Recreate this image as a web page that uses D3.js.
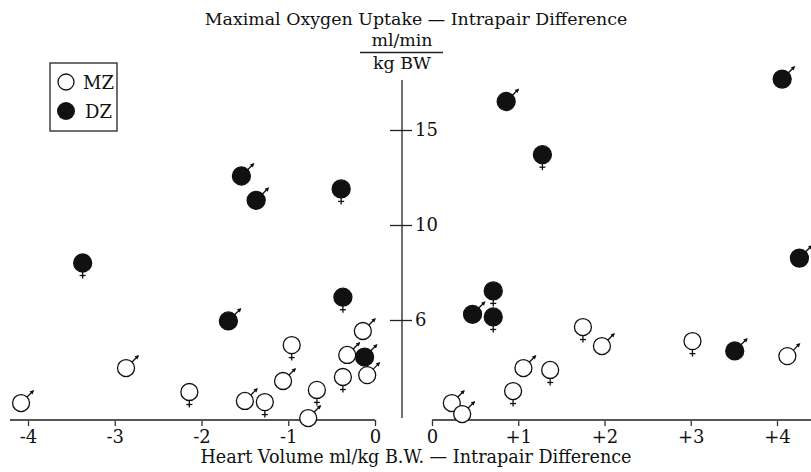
<!DOCTYPE html>
<html>
<head>
<meta charset="utf-8">
<script src="https://cdn.jsdelivr.net/npm/d3@7"></script>
<style>
  body { margin: 0; background: #fff; }
  text { font-family: "DejaVu Serif", serif; fill: #111; }
</style>
</head>
<body>
<svg id="chart" width="811" height="472"></svg>
<script>
// MZ pairs (open circles)
const mzX = [-4.08, -2.87, -2.14, -1.50, -1.27, -1.06, -0.96, -0.77, -0.67, -0.37, -0.32, -0.14, -0.09,
             0.23, 0.35, 0.94, 1.06, 1.37, 1.75, 1.97, 3.02, 4.12];
const mzY = [0.63, 2.47, 1.21, 0.74, 0.68, 1.79, 3.68, -0.16, 1.32, 2.0, 3.16, 4.42, 2.1,
             0.63, 0.05, 1.26, 2.47, 2.37, 4.63, 3.63, 3.89, 3.1];
const mzSex = ["M","M","F","M","F","M","F","M","F","F","M","M","M",
               "M","M","F","M","F","F","M","F","M"];

// DZ pairs (filled circles)
const dzX = [-3.37, -1.69, -0.37, -0.12, -1.54, -1.37, -0.39, 0.47, 0.71, 0.71, 3.51, 4.26, 0.86, 1.28, 4.06];
const dzY = [8.0, 4.95, 6.2, 3.05, 12.58, 11.3, 11.9, 5.3, 6.53, 5.16, 3.37, 8.26, 16.5, 13.7, 17.68];
const dzSex = ["F","M","F","M","M","M","F","M","F","F","M","M","M","F","M"];

const leftTicks = [-4, -3, -2, -1, 0];
const leftTickLabels = ["-4", "-3", "-2", "-1", "0"];
const rightTicks = [0, 1, 2, 3, 4];
const rightTickLabels = ["0", "+1", "+2", "+3", "+4"];
const yTicks = [5, 10, 15];
const yTickLabels = ["6", "10", "15"];

const svg = d3.select("#chart");
const baseY = 420;
const axisX = 402;

const xLeft = d3.scaleLinear().domain([-4, 0]).range([28, 375]);
const xRight = d3.scaleLinear().domain([0, 4]).range([432, 777]);
const xPos = v => v < 0 ? xLeft(v) : xRight(v);
const y = d3.scaleLinear().domain([0, 15]).range([415, 130]);

// x axes (two halves)
const gl = svg.append("g").attr("transform", `translate(0,${baseY})`)
    .call(d3.axisBottom(xLeft).tickValues(leftTicks).tickFormat((d, i) => leftTickLabels[i]).tickSize(6).tickPadding(4));
const gr = svg.append("g").attr("transform", `translate(0,${baseY})`)
    .call(d3.axisBottom(xRight).tickValues(rightTicks).tickFormat((d, i) => rightTickLabels[i]).tickSize(6).tickPadding(4));
[gl, gr].forEach(g => {
    g.select(".domain").remove();
    g.selectAll(".tick line").attr("stroke", "#333").attr("stroke-width", 1.3);
    g.selectAll(".tick text").attr("font-size", 18).attr("font-family", "DejaVu Serif").attr("fill", "#111");
});
svg.append("line").attr("x1", 10).attr("x2", 375).attr("y1", baseY).attr("y2", baseY)
    .attr("stroke", "#555").attr("stroke-width", 2);
svg.append("line").attr("x1", 432).attr("x2", 811).attr("y1", baseY).attr("y2", baseY)
    .attr("stroke", "#555").attr("stroke-width", 2);

// y axis
const gy = svg.append("g").attr("transform", `translate(${axisX},0)`)
    .call(d3.axisRight(y).tickValues(yTicks).tickFormat((d, i) => yTickLabels[i]).tickSize(10).tickPadding(3));
gy.select(".domain").remove();
gy.selectAll(".tick line").attr("x1", -12).attr("stroke", "#222").attr("stroke-width", 1.3);
gy.selectAll(".tick text").attr("font-size", 18).attr("font-family", "DejaVu Serif").attr("fill", "#111");
svg.append("line").attr("x1", axisX).attr("x2", axisX).attr("y1", 80).attr("y2", 418)
    .attr("stroke", "#222").attr("stroke-width", 1.3);

// titles
svg.append("text").attr("x", 416).attr("y", 25).attr("text-anchor", "middle")
    .attr("font-size", 17.4).text("Maximal Oxygen Uptake \u2014 Intrapair Difference");
svg.append("text").attr("x", 402).attr("y", 46).attr("text-anchor", "middle")
    .attr("font-size", 17.4).text("ml/min");
svg.append("line").attr("x1", 360).attr("x2", 443).attr("y1", 52.5).attr("y2", 52.5)
    .attr("stroke", "#222").attr("stroke-width", 1.3);
svg.append("text").attr("x", 402).attr("y", 69).attr("text-anchor", "middle")
    .attr("font-size", 17.4).text("kg BW");
svg.append("text").attr("x", 416).attr("y", 463).attr("text-anchor", "middle")
    .attr("font-size", 17.6).text("Heart Volume ml/kg B.W. \u2014 Intrapair Difference");

// markers
const r = 8.5;
function drawMarker(g, cx, cy, filled, sex) {
    const m = g.append("g").attr("transform", `translate(${cx},${cy})`);
    if (sex === "M") {
        const s = r * Math.SQRT1_2;
        m.append("line").attr("x1", s).attr("y1", -s).attr("x2", 12).attr("y2", -12)
            .attr("stroke", "#111").attr("stroke-width", 1.3);
        m.append("path").attr("d", "M13,-13 L8.5,-11.5 L11.5,-8.5 Z").attr("fill", "#111");
    } else {
        m.append("line").attr("x1", 0).attr("y1", r).attr("x2", 0).attr("y2", 15.5)
            .attr("stroke", "#111").attr("stroke-width", 1.3);
        m.append("line").attr("x1", -3).attr("y1", 12.5).attr("x2", 3).attr("y2", 12.5)
            .attr("stroke", "#111").attr("stroke-width", 1.3);
    }
    m.append("circle").attr("r", filled ? 9 : r)
        .attr("fill", filled ? "#111" : "#fff").attr("stroke", "#111").attr("stroke-width", 1.3);
}
const pts = svg.append("g");
mzX.forEach((v, i) => drawMarker(pts, xPos(v), y(mzY[i]), false, mzSex[i]));
dzX.forEach((v, i) => drawMarker(pts, xPos(v), y(dzY[i]), true, dzSex[i]));

// legend
const lg = svg.append("g");
lg.append("rect").attr("x", 50).attr("y", 63).attr("width", 67).attr("height", 68)
    .attr("fill", "#fff").attr("stroke", "#222").attr("stroke-width", 1.3);
lg.append("circle").attr("cx", 66).attr("cy", 82).attr("r", 8).attr("fill", "#fff").attr("stroke", "#111").attr("stroke-width", 1.3);
lg.append("circle").attr("cx", 66).attr("cy", 111).attr("r", 9).attr("fill", "#111");
lg.append("text").attr("x", 83).attr("y", 88.5).attr("font-size", 18).text("MZ");
lg.append("text").attr("x", 85).attr("y", 118).attr("font-size", 18).text("DZ");
</script>
</body>
</html>
